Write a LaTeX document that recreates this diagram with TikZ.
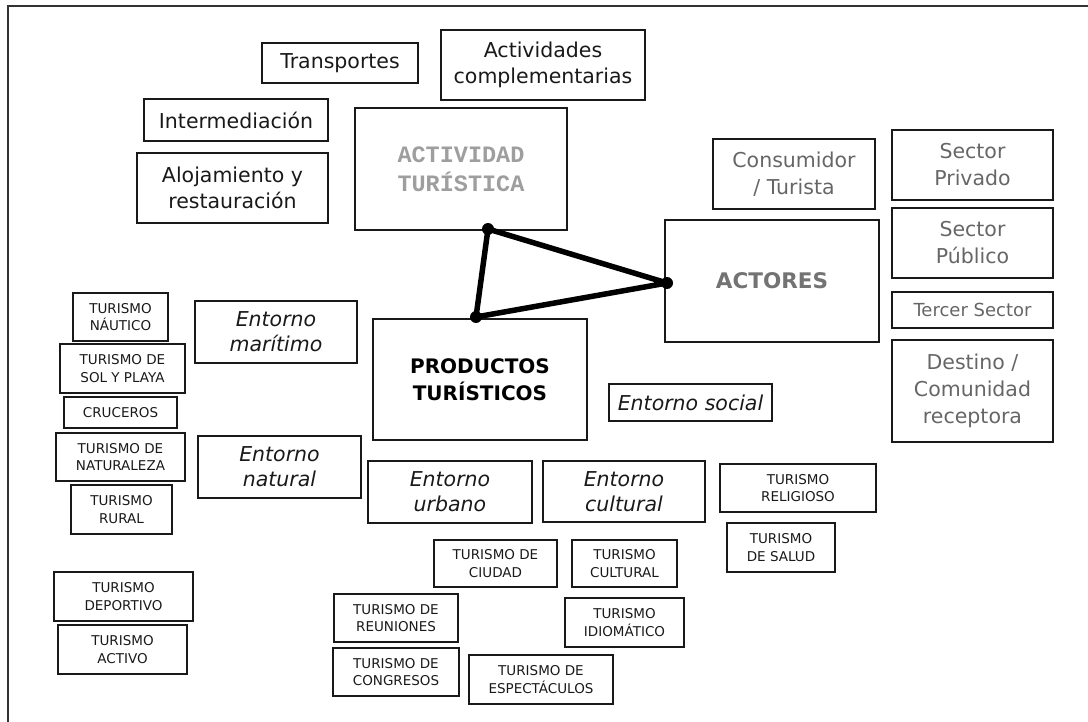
\documentclass[tikz,border=0pt]{standalone}
\usepackage{fontspec}
\setmainfont{DejaVu Sans}
\newfontfamily\actfont{Liberation Mono}

\tikzset{
  box/.style={draw=black!90, line width=1.9pt, inner sep=0pt, align=center},
  wh/.style 2 args={minimum width=#1pt, minimum height=#2pt},
  bigtxt/.style={font=\fontsize{20.5}{26}\selectfont, text=black!90},
  greytxt/.style={font=\fontsize{20.5}{27}\selectfont, text=black!60},
  envtxt/.style={font=\fontsize{20.5}{25}\selectfont\itshape, text=black!90},
  smalltxt/.style={font=\fontsize{13.5}{17.5}\selectfont, text=black!90},
  dot/.style={circle, fill=black, inner sep=0pt, minimum size=12pt},
  link/.style={line width=5.5pt, line join=round}
}

\begin{document}
\begin{tikzpicture}[x=1pt, y=-1pt]
  \useasboundingbox (0,0) rectangle (1088,722);
  % frame
  \draw[line width=2pt, black!80] (8,722) -- (8,6) -- (1088,6);

  % actividad turistica
  \node[box, wh={212}{122}, font=\actfont\bfseries\fontsize{23.5}{29}\selectfont, text=black!38] (act) at (461,169) {ACTIVIDAD\\TURÍSTICA};
  \node[box, bigtxt, wh={156}{40}] (transp) at (340,63) {Transportes};
  \node[box, bigtxt, wh={204}{70}] (actcomp) at (543,65) {Actividades\\complementarias};
  \node[box, bigtxt, wh={184}{42}] (interm) at (236,120) {Intermediación};
  \node[box, bigtxt, wh={191}{70}] (aloj) at (232.5,188) {Alojamiento y\\restauración};

  % actores
  \node[box, wh={214}{122}, font=\bfseries\fontsize{21.5}{27}\selectfont, text=black!55] (actores) at (772,281) {ACTORES};
  \node[box, greytxt, wh={162}{70}] (consum) at (794,174) {Consumidor\\/ Turista};
  \node[box, greytxt, wh={161}{70}] (secpriv) at (972.5,165) {Sector\\Privado};
  \node[box, greytxt, wh={161}{70}] (secpub) at (972.5,243) {Sector\\Público};
  \node[box, greytxt, wh={161}{36}, font=\fontsize{18}{22}\selectfont] (tercer) at (972.5,310) {Tercer Sector};
  \node[box, greytxt, wh={161}{102}] (destino) at (972.5,391) {Destino /\\Comunidad\\receptora};

  % productos turisticos
  \node[box, wh={214}{121}, font=\bfseries\fontsize{20}{27}\selectfont] (prod) at (480,379.5) {PRODUCTOS\\TURÍSTICOS};

  % entornos
  \node[box, envtxt, wh={163}{37}] (esocial) at (690.5,402.5) {Entorno social};
  \node[box, envtxt, wh={164}{62}] (eurbano) at (450,492) {Entorno\\urbano};
  \node[box, envtxt, wh={162}{61}] (ecultural) at (624,491.5) {Entorno\\cultural};
  \node[box, envtxt, wh={162}{62}] (emaritimo) at (276,332) {Entorno\\marítimo};
  \node[box, envtxt, wh={163}{62}] (enatural) at (279.5,467) {Entorno\\natural};

  % tipos de turismo
  \node[box, smalltxt, wh={95}{48}] (tnautico) at (120.5,317) {TURISMO\\NÁUTICO};
  \node[box, smalltxt, wh={125}{49}] (tsol) at (122.5,368.5) {TURISMO DE\\SOL Y PLAYA};
  \node[box, smalltxt, wh={113}{31}] (tcruceros) at (120.5,412.5) {CRUCEROS};
  \node[box, smalltxt, wh={129}{48}] (tnaturaleza) at (120.5,457) {TURISMO DE\\NATURALEZA};
  \node[box, smalltxt, wh={101}{49}] (trural) at (121.5,509.5) {TURISMO\\RURAL};
  \node[box, smalltxt, wh={139}{49}] (tdeportivo) at (123.5,596.5) {TURISMO\\DEPORTIVO};
  \node[box, smalltxt, wh={129}{49}] (tactivo) at (122.5,649.5) {TURISMO\\ACTIVO};
  \node[box, smalltxt, wh={123}{47}] (tciudad) at (495.5,563.5) {TURISMO DE\\CIUDAD};
  \node[box, smalltxt, wh={105}{47}] (tcultural) at (624.5,563.5) {TURISMO\\CULTURAL};
  \node[box, smalltxt, wh={124}{48}] (treuniones) at (396,618) {TURISMO DE\\REUNIONES};
  \node[box, smalltxt, wh={119}{49}] (tidiomatico) at (624.5,622.5) {TURISMO\\IDIOMÁTICO};
  \node[box, smalltxt, wh={126}{48}] (tcongresos) at (396,672) {TURISMO DE\\CONGRESOS};
  \node[box, smalltxt, wh={144}{49}] (tespect) at (541,679.5) {TURISMO DE\\ESPECTÁCULOS};
  \node[box, smalltxt, wh={156}{48}] (treligioso) at (798,488) {TURISMO\\RELIGIOSO};
  \node[box, smalltxt, wh={108}{49}] (tsalud) at (781,547.5) {TURISMO\\DE SALUD};

  % triangulo
  \node[dot] (pact) at (488,229) {};
  \node[dot] (pprod) at (476,317) {};
  \node[dot] (pactores) at (667,283) {};
  \draw[link] (pact.center) -- (pprod.center) -- (pactores.center) -- cycle;
\end{tikzpicture}
\end{document}
